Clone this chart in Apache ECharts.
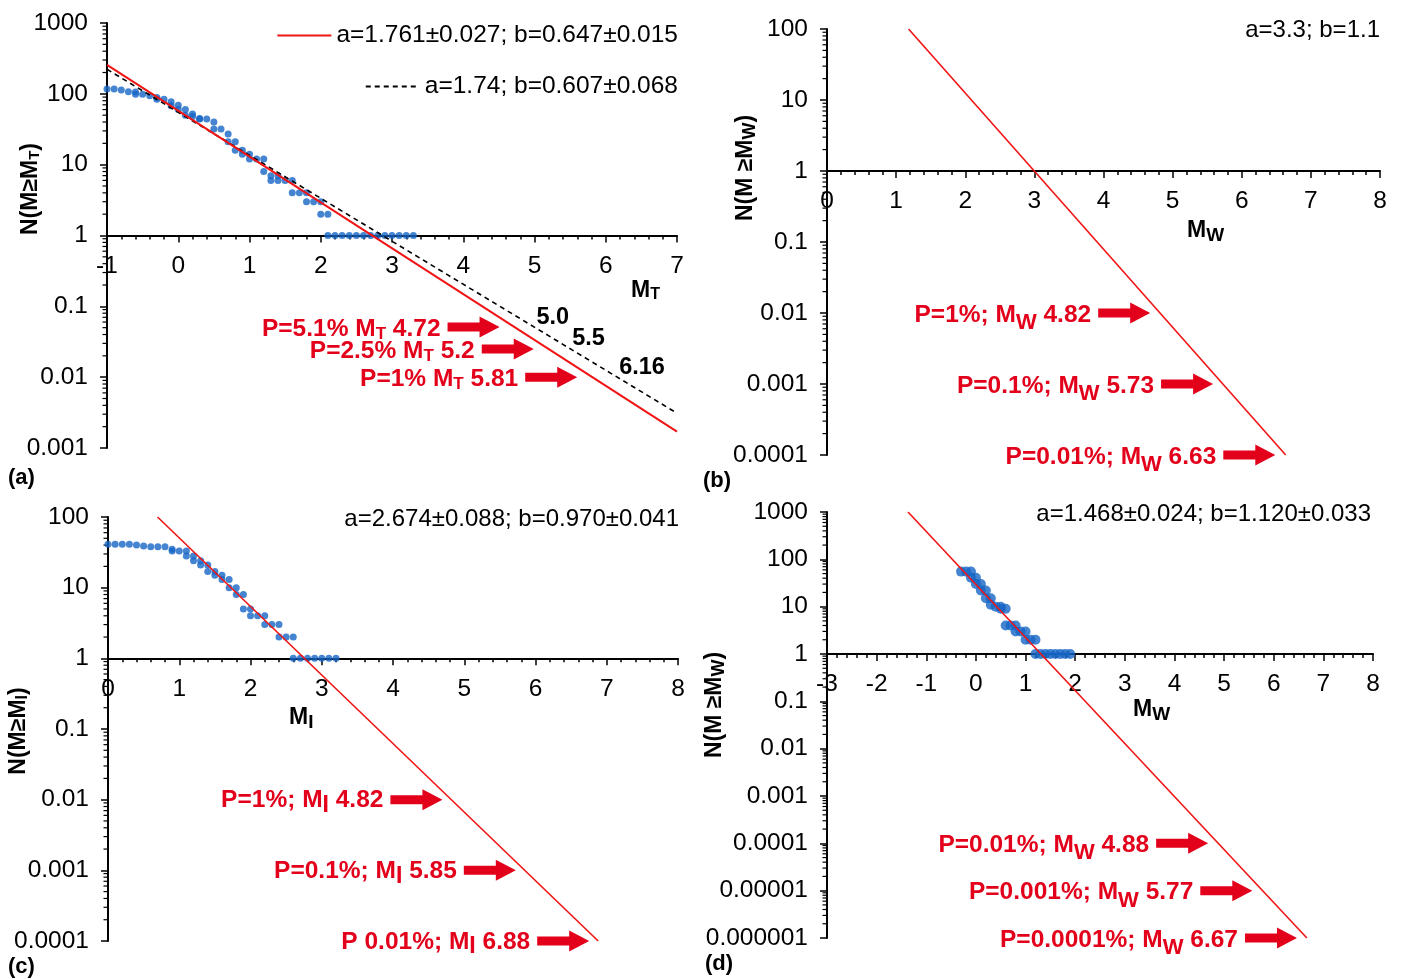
<!DOCTYPE html>
<html><head><meta charset="utf-8">
<script src="https://cdn.jsdelivr.net/npm/echarts@6/dist/echarts.min.js"></script>
<style>html,body{margin:0;padding:0;background:#fff}#c{width:1402px;height:979px}</style>
</head><body><div id="c"></div><script>
// ---------------- DATA ----------------
// (a) cumulative counts vs MT
const magA = [-1.0,-0.9,-0.8,-0.7,-0.6,-0.6,-0.5,-0.4,-0.3,-0.3,-0.2,-0.1,-0.1,0.0,0.0,0.1,0.1,0.2,0.2,0.3,0.3,0.4,0.5,0.5,0.6,0.7,0.7,0.8,0.8,0.9,0.9,1.0,1.0,1.1,1.2,1.2,1.3,1.3,1.4,1.4,1.5,1.6,1.6,1.7,1.8,1.8,1.9,2.0,2.0,2.1,2.1,2.2,2.3,2.4,2.5,2.6,2.7,2.8,2.9,3.0,3.1,3.2,3.3];
const countA = [117,117,113,107,106,99,99,94,89,84,84,77,68,69,60,60,50,52,48,45,44,44,40,32,32,27,21,21,16,16,14,14,12,12,12,8,7,6,7,6,6,6,4,4,4,3,3,3,2,2,1,1,1,1,1,1,1,1,1,1,1,1,1];
// (c) cumulative counts vs MI
const magC = [0.0,0.1,0.2,0.3,0.4,0.5,0.6,0.7,0.8,0.9,0.9,1.0,1.1,1.1,1.2,1.2,1.3,1.3,1.4,1.4,1.5,1.5,1.6,1.6,1.7,1.7,1.8,1.8,1.9,1.9,2.0,2.0,2.1,2.2,2.2,2.3,2.4,2.4,2.5,2.6,2.6,2.7,2.8,2.9,3.0,3.1,3.2];
const countC = [41,41,41,41,40,39,38,38,38,35,33,33,33,28,28,24,24,21,21,17,17,15,15,13,13,10,10,8,8,5,5,4,4,4,3,3,3,2,2,2,1,1,1,1,1,1,1];
// (d) cumulative counts vs MW
const magD = [-0.3,-0.2,-0.1,-0.1,0.0,0.0,0.1,0.1,0.2,0.2,0.3,0.3,0.4,0.5,0.5,0.6,0.6,0.7,0.8,0.8,0.9,1.0,1.0,1.1,1.2,1.2,1.3,1.4,1.5,1.6,1.7,1.8,1.9];
const countD = [55,55,55,41,41,30,30,22,22,15,15,11,10,10,9,9,4,4,4,3,3,3,2,2,2,1,1,1,1,1,1,1,1];

// fitted G-R lines (end points)
const fitA1M = [-1, 7];      const fitA1N = [256, 0.0017];
const fitA2M = [-1, 7];      const fitA2N = [222, 0.0031];
const fitBM  = [1.18, 6.636]; const fitBN  = [100, 0.0001];
const fitCM  = [0.695, 6.88]; const fitCN  = [100, 0.0001];
const fitDM  = [-1.368, 6.668]; const fitDN = [1000, 0.000001];

const fitLabelA1 = 'a=1.761±0.027; b=0.647±0.015';
const fitLabelA2 = 'a=1.74; b=0.607±0.068';
const fitLabelB = 'a=3.3; b=1.1';
const fitLabelC = 'a=2.674±0.088; b=0.970±0.041';
const fitLabelD = 'a=1.468±0.024; b=1.120±0.033';

// probability annotations
const annTextA = ['P=5.1% M', 'P=2.5% M', 'P=1% M'];
const annMagA = [4.72, 5.2, 5.81];
const annProbA = [0.051, 0.025, 0.01];
const annTextB = ['P=1%; M', 'P=0.1%; M', 'P=0.01%; M'];
const annMagB = [4.82, 5.73, 6.63];
const annProbB = [0.01, 0.001, 0.0001];
const annTextC = ['P=1%; M', 'P=0.1%; M', 'P 0.01%; M'];
const annMagC = [4.82, 5.85, 6.88];
const annProbC = [0.01, 0.001, 0.0001];
const annTextD = ['P=0.01%; M', 'P=0.001%; M', 'P=0.0001%; M'];
const annMagD = [4.88, 5.77, 6.67];
const annProbD = [0.0001, 0.00001, 0.000001];
// dashed-line magnitudes in (a)
const dashMagA = [5.0, 5.5, 6.16];
const dashProbA = [0.051, 0.025, 0.01];
const dashTextA = ['5.0', '5.5', '6.16'];

// ---------------- LAYOUT / STYLE ----------------
const FONT = 'Liberation Sans, Arial, Helvetica, sans-serif';
const RED_LINE = '#f01414';
const RED_TXT = '#e3001b';
const BLUE = '#1565c6';
const TICKFONT = 24.5;

const panels = [
  {left:107, top:23,  width:570, height:425, xMin:-1, xMax:7, yMin:0.001,  yMax:1000},
  {left:827, top:29,  width:553, height:426, xMin:0,  xMax:8, yMin:0.0001, yMax:100},
  {left:108, top:517, width:570, height:424, xMin:0,  xMax:8, yMin:0.0001, yMax:100},
  {left:827, top:512, width:546, height:426, xMin:-3, xMax:8, yMin:0.000001, yMax:1000}
];

function yFmt(v){
  const e = Math.round(Math.log10(v));
  return e >= 0 ? String(Math.pow(10, e)) : '0.' + '0'.repeat(-e - 1) + '1';
}

const grids = panels.map(p => ({left:p.left, top:p.top, width:p.width, height:p.height, containLabel:false}));
const xAxes = panels.map((p, i) => ({
  type:'value', gridIndex:i, min:p.xMin, max:p.xMax, interval:1, position:'bottom',
  offset: -p.height * Math.log10(1 / p.yMin) / Math.log10(p.yMax / p.yMin),
  axisLine:{show:true, onZero:false, lineStyle:{color:'#000', width:2}},
  axisTick:{show:true, length:7, lineStyle:{color:'#000', width:1.5}},
  minorTick:{show:true, splitNumber:5, length:4, lineStyle:{color:'#000', width:1.5}},
  splitLine:{show:false}, minorSplitLine:{show:false},
  axisLabel:{fontSize:TICKFONT, color:'#000', fontFamily:FONT, margin:18}
}));
const yAxes = panels.map((p, i) => ({
  type:'log', logBase:10, gridIndex:i, min:p.yMin, max:p.yMax, splitNumber:12,
  axisLine:{show:true, onZero:false, lineStyle:{color:'#000', width:2}},
  axisTick:{show:true, length:7, lineStyle:{color:'#000', width:1.5}},
  minorTick:{show:false}, splitLine:{show:false},
  axisLabel:{fontSize:TICKFONT, color:'#000', fontFamily:FONT, margin:19, formatter:yFmt}
}));

const series = [];
// y-axis log minor ticks (2..9 per decade), placed through the axis scale
panels.forEach((p, i) => {
  const vals = [];
  for (let e = Math.round(Math.log10(p.yMin)); e < Math.round(Math.log10(p.yMax)); e++)
    for (let m = 2; m <= 9; m++) vals.push([p.xMin, m * Math.pow(10, e)]);
  series.push({type:'custom', xAxisIndex:i, yAxisIndex:i, silent:true, clip:false, z:1, data:vals,
    renderItem:(params, api) => {
      const c = api.coord([api.value(0), api.value(1)]);
      return {type:'line', shape:{x1:c[0] - 4.5, y1:c[1], x2:c[0], y2:c[1]}, style:{stroke:'#000', lineWidth:1.2}};
    }});
});

function pts(ms, ns){ return ms.map((m, j) => [m, ns[j]]); }

series.push({type:'scatter', name:'obsA', xAxisIndex:0, yAxisIndex:0, data:pts(magA, countA), symbolSize:7, itemStyle:{color:BLUE}, z:2, silent:true});
series.push({type:'scatter', name:'obsC', xAxisIndex:2, yAxisIndex:2, data:pts(magC, countC), symbolSize:7, itemStyle:{color:BLUE}, z:2, silent:true});
series.push({type:'scatter', name:'obsD', xAxisIndex:3, yAxisIndex:3, data:pts(magD, countD), symbolSize:10, itemStyle:{color:BLUE}, z:2, silent:true});

series.push({type:'line', name:fitLabelA2, xAxisIndex:0, yAxisIndex:0, data:pts(fitA2M, fitA2N), symbol:'none', lineStyle:{color:'#000', width:1.6, type:[5,4]}, itemStyle:{color:'#000'}, z:3, silent:true});
series.push({type:'line', name:fitLabelA1, xAxisIndex:0, yAxisIndex:0, data:pts(fitA1M, fitA1N), symbol:'none', lineStyle:{color:RED_LINE, width:2}, itemStyle:{color:RED_LINE}, z:4, silent:true});
series.push({type:'line', name:'fitB', xAxisIndex:1, yAxisIndex:1, data:pts(fitBM, fitBN), symbol:'none', lineStyle:{color:RED_LINE, width:1.6}, z:4, silent:true});
series.push({type:'line', name:'fitC', xAxisIndex:2, yAxisIndex:2, data:pts(fitCM, fitCN), symbol:'none', lineStyle:{color:RED_LINE, width:1.6}, z:4, silent:true});
series.push({type:'line', name:'fitD', xAxisIndex:3, yAxisIndex:3, data:pts(fitDM, fitDN), symbol:'none', lineStyle:{color:RED_LINE, width:1.6}, z:4, silent:true});

function annSeries(idx, texts, mags, probs, sub, subSize, subDrop, textDy, gap){
  return {type:'custom', xAxisIndex:idx, yAxisIndex:idx, silent:true, clip:false, z:6,
    data: pts(mags, probs),
    renderItem:(params, api) => {
      const j = params.dataIndex;
      const c = api.coord([api.value(0), api.value(1)]);
      const tip = c[0] - gap, y = c[1];
      const L = 52, HL = 20, bh = 4.5, hh = 10.5;
      return {type:'group', children:[
        {type:'polygon', shape:{points:[[tip-L,y-bh],[tip-HL,y-bh],[tip-HL,y-hh],[tip,y],[tip-HL,y+hh],[tip-HL,y+bh],[tip-L,y+bh]]}, style:{fill:RED_TXT}},
        {type:'text', style:{
          text:'{m|' + texts[j] + '}{s|' + sub + '}{m| ' + String(mags[j]) + '}',
          x: tip - L - 7, y: y + textDy, align:'right', verticalAlign:'middle',
          fontSize:24.5, fontWeight:'bold', fontFamily:FONT, fill:RED_TXT,
          rich:{
            m:{fontSize:24.5, fontWeight:'bold', fontFamily:FONT, fill:RED_TXT, lineHeight:28},
            s:{fontSize:subSize, fontWeight:'bold', fontFamily:FONT, fill:RED_TXT, lineHeight:28, padding:[subDrop*2,0,0,0]}
          }}}
      ]};
    }};
}
series.push(annSeries(0, annTextA, annMagA, annProbA, 'T', 17, 5, 2, 15));
series.push(annSeries(1, annTextB, annMagB, annProbB, 'W', 22, 8, 2, 10));
series.push(annSeries(2, annTextC, annMagC, annProbC, 'I', 23, 5, 1, 9));
series.push(annSeries(3, annTextD, annMagD, annProbD, 'W', 22, 8, 2, 10));

series.push({type:'custom', xAxisIndex:0, yAxisIndex:0, silent:true, clip:false, z:6,
  data: pts(dashMagA, dashProbA),
  renderItem:(params, api) => {
    const c = api.coord([api.value(0), api.value(1)]);
    return {type:'text', style:{text:dashTextA[params.dataIndex], x:c[0] + 2, y:c[1] - 10, align:'left', verticalAlign:'middle',
      fontSize:23.5, fontWeight:'bold', fontFamily:FONT, fill:'#000'}};
  }});

// text helpers for graphic
function richSub(main, sub, size, subSize, drop, bold, tail){
  const w = bold ? 'bold' : 'normal';
  return {
    text:'{m|' + main + '}{s|' + sub + '}{e|' + (tail || '') + '}',
    rich:{
      m:{fontSize:size, fontWeight:w, fontFamily:FONT, fill:'#000', lineHeight:size + 4},
      s:{fontSize:subSize, fontWeight:w, fontFamily:FONT, fill:'#000', lineHeight:size + 4, padding:[drop*2,0,0,0]},
      e:{fontSize:size, fontWeight:w, fontFamily:FONT, fill:'#000', lineHeight:size + 4}
    }
  };
}
function plainText(x, y, t, align, size, bold){
  return {type:'text', x:x, y:y, style:{text:t, align:align, verticalAlign:'middle', fontSize:size, fontWeight:bold ? 'bold' : 'normal', fontFamily:FONT, fill:'#000'}};
}
function richText(x, y, rt, align, rotation){
  return {type:'text', x:x, y:y, rotation:rotation || 0, style:Object.assign({align:align, verticalAlign:'middle', fontFamily:FONT, fill:'#000'}, rt)};
}

const graphics = [
  plainText(1380, 30, fitLabelB, 'right', 24, false),
  plainText(679, 519, fitLabelC, 'right', 24, false),
  plainText(1371, 514, fitLabelD, 'right', 24, false),
  plainText(8, 478, '(a)', 'left', 22, true),
  plainText(703, 481, '(b)', 'left', 22, true),
  plainText(8, 967, '(c)', 'left', 22, true),
  plainText(705, 964, '(d)', 'left', 22, true),
  // x-axis names
  richText(631, 291, richSub('M', 'T', 23, 16, 4, true), 'left'),
  richText(1187, 231, richSub('M', 'W', 23, 19, 5, true), 'left'),
  richText(289, 718, richSub('M', 'I', 23, 19, 5, true), 'left'),
  richText(1133, 710, richSub('M', 'W', 23, 19, 5, true), 'left'),
  // y-axis titles (rotated)
  richText(31, 189, richSub('N(M≥M', 'T', 23, 15, 4, true, ')'), 'center', Math.PI / 2),
  richText(746, 168, richSub('N(M ≥M', 'W', 23, 18, 4, true, ')'), 'center', Math.PI / 2),
  richText(19, 731, richSub('N(M≥M', 'I', 23, 16, 4, true, ')'), 'center', Math.PI / 2),
  richText(715, 705, richSub('N(M ≥M', 'W', 23, 18, 4, true, ')'), 'center', Math.PI / 2)
];

const legendBase = {right:724, padding:0, orient:'vertical', selectedMode:false, itemWidth:54, itemHeight:14,
  itemStyle:{opacity:0}, textStyle:{fontSize:24.5, color:'#000', fontFamily:FONT}};

const chart = echarts.init(document.getElementById('c'), null, {renderer:'canvas'});
chart.setOption({
  animation:false,
  backgroundColor:'#fff',
  grid:grids, xAxis:xAxes, yAxis:yAxes,
  legend:[
    Object.assign({data:[fitLabelA1], top:23}, legendBase),
    Object.assign({data:[fitLabelA2], top:74}, legendBase)
  ],
  series:series,
  graphic:{elements:graphics}
});
</script></body></html>
